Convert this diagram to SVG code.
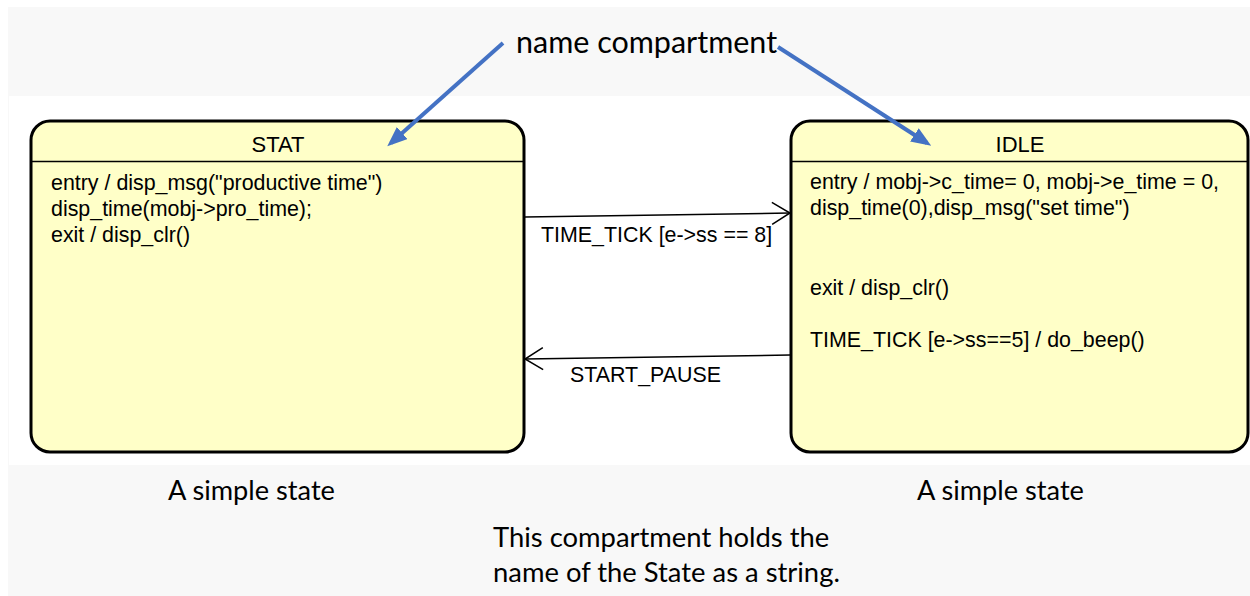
<svg xmlns="http://www.w3.org/2000/svg" width="1250" height="596" viewBox="0 0 1250 596">
  <style>
    .uml { font-family: "Liberation Sans", Arial, sans-serif; font-size: 21.4px; fill: #000; }
    .title { text-anchor: middle; font-size: 22px; }
    .note { font-family: Lato, "Open Sans", sans-serif; fill: #000; }
    .state { fill: #ffffc8; stroke: #000; stroke-width: 3; }
    .divider { stroke: #000; stroke-width: 1.5; }
    .transition { stroke: #000; stroke-width: 1.5; fill: none; }
    .pointer { stroke: #4472c4; stroke-width: 4; fill: none; }
  </style>
  <defs>
    <marker id="open-head" markerUnits="userSpaceOnUse" viewBox="0 0 20 24" refX="19" refY="12" markerWidth="20" markerHeight="24" orient="auto">
      <path d="M1,1 L19,12 L1,23" fill="none" stroke="#000" stroke-width="1.5"/>
    </marker>
    <marker id="blue-head" markerUnits="userSpaceOnUse" viewBox="0 0 20 16" refX="15" refY="8" markerWidth="20" markerHeight="16" orient="auto">
      <path d="M0,0 L20,8 L0,16 Z" fill="#4472c4"/>
    </marker>
  </defs>

  <!-- page backdrop -->
  <rect x="0" y="0" width="1250" height="596" fill="#ffffff"/>
  <rect x="8" y="7" width="1242" height="589" fill="#f8f8f8"/>
  <rect x="9" y="96" width="1241" height="369" fill="#ffffff"/>

  <!-- state STAT -->
  <g id="state-stat">
    <rect class="state" x="31" y="121" width="493" height="331" rx="19" ry="19"/>
    <line class="divider" x1="31" y1="161.5" x2="524" y2="161.5"/>
    <text class="uml title" x="278" y="152">STAT</text>
    <text class="uml" x="51" y="190">entry / disp_msg("productive time")</text>
    <text class="uml" x="51" y="216">disp_time(mobj-&gt;pro_time);</text>
    <text class="uml" x="51" y="242">exit / disp_clr()</text>
  </g>

  <!-- state IDLE -->
  <g id="state-idle">
    <rect class="state" x="791" y="121" width="457" height="331" rx="19" ry="19"/>
    <line class="divider" x1="791" y1="161.5" x2="1248" y2="161.5"/>
    <text class="uml title" x="1020" y="152">IDLE</text>
    <text class="uml" x="810" y="189">entry / mobj-&gt;c_time= 0, mobj-&gt;e_time = 0,</text>
    <text class="uml" x="810" y="215">disp_time(0),disp_msg("set time")</text>
    <text class="uml" x="810" y="295">exit / disp_clr()</text>
    <text class="uml" x="810" y="347">TIME_TICK [e-&gt;ss==5] / do_beep()</text>
  </g>

  <!-- transitions -->
  <g id="connectors">
    <line class="transition" x1="525" y1="217" x2="790" y2="213" marker-end="url(#open-head)"/>
    <text class="uml" x="541" y="242">TIME_TICK [e-&gt;ss == 8]</text>
    <line class="transition" x1="790" y1="355" x2="525" y2="359" marker-end="url(#open-head)"/>
    <text class="uml" x="570" y="382">START_PAUSE</text>
    <line class="pointer" x1="503" y1="43" x2="391" y2="143" marker-end="url(#blue-head)"/>
    <line class="pointer" x1="778" y1="47" x2="927" y2="143" marker-end="url(#blue-head)"/>
  </g>

  <!-- annotations -->
  <g id="annotations">
    <text class="note" x="516" y="53" font-size="30.5">name compartment</text>
    <text class="note" x="168" y="500" font-size="27.2">A simple state</text>
    <text class="note" x="917" y="500" font-size="27.2">A simple state</text>
    <text class="note" x="493" y="547" font-size="27.4">This compartment holds the</text>
    <text class="note" x="493" y="582" font-size="27.4">name of the State as a string.</text>
  </g>
</svg>
